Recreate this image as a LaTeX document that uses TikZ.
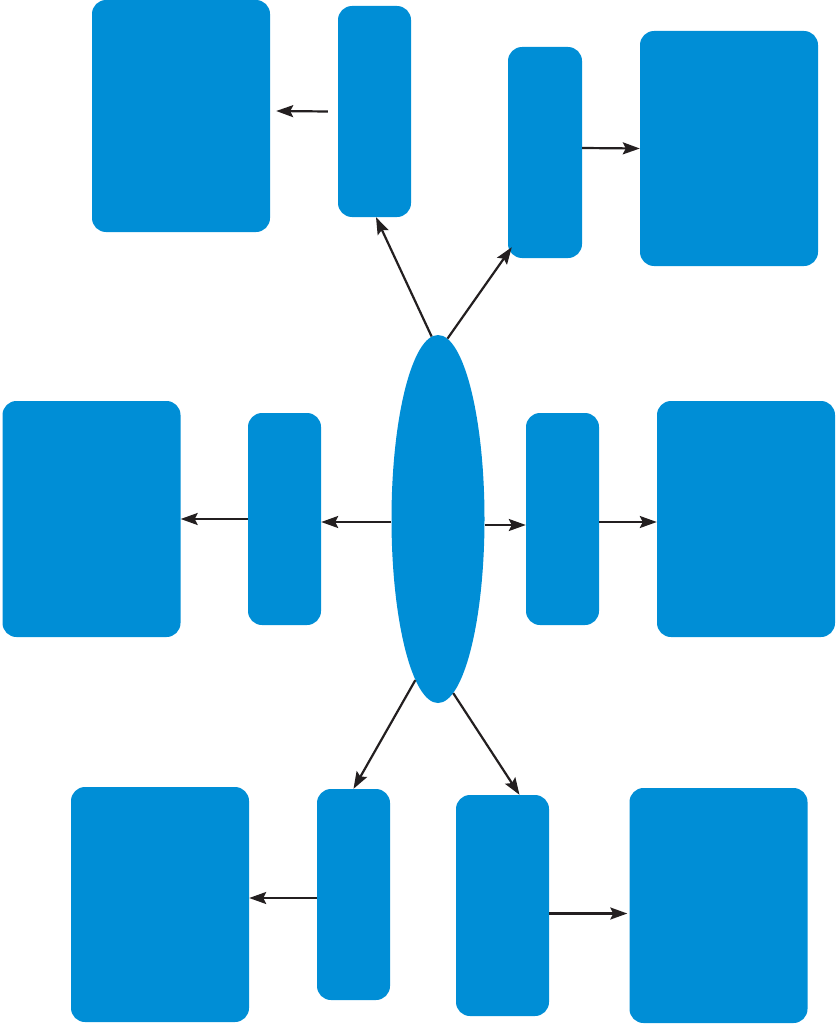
\documentclass[tikz,border=0pt]{standalone}
\usepackage{tikz}
\usetikzlibrary{positioning, arrows.meta, shapes.geometric}
\definecolor{boxblue}{RGB}{0,142,214}
\definecolor{arrowblack}{RGB}{35,31,32}

\begin{document}
\begin{tikzpicture}[
  x=1pt, y=-1pt,
  bigbox/.style = {rectangle, rounded corners=14pt, fill=boxblue, inner sep=0pt, minimum width=178pt, minimum height=235pt},
  smallbox/.style = {rectangle, rounded corners=14pt, fill=boxblue, inner sep=0pt, minimum width=73pt, minimum height=211pt},
  hub/.style = {ellipse, fill=boxblue, inner sep=0pt, minimum width=93pt, minimum height=368pt},
  arrow/.style = {-{Stealth[length=17pt, width=12pt, inset=3pt]}, line width=2.2pt, draw=arrowblack}
  ]
\useasboundingbox (0,0) rectangle (836,1025);

\node[hub] (centre) at (438,519) {};

% top row
\node[bigbox, minimum height=232pt] (topleft) at (181,116) {};
\node[smallbox] (topa) at (374.5,111.5) {};
\node[smallbox, minimum width=74pt] (topb) at (545,152.5) {};
\node[bigbox] (topright) at (729,148.5) {};

% middle row
\node[bigbox, minimum height=236pt] (midleft) at (91.5,519) {};
\node[smallbox, minimum height=212pt] (mida) at (284.5,519) {};
\node[smallbox, minimum height=212pt] (midb) at (562.5,519) {};
\node[bigbox, minimum height=236pt] (midright) at (746,519) {};

% bottom row
\node[bigbox] (botleft) at (160,904.5) {};
\node[smallbox] (bota) at (353.5,894.5) {};
\node[smallbox, minimum width=93pt, minimum height=221pt] (botb) at (502.5,905.5) {};
\node[bigbox] (botright) at (718.5,905.5) {};

\draw[arrow] (centre.92) -- ([xshift=1.5pt]topa.south);
\draw[arrow] (centre.87) -- ([xshift=4pt, yshift=11pt]topb.south west);
\draw[arrow] ([xshift=-10pt]topa.west) -- ([xshift=6pt, yshift=5pt]topleft.east);
\draw[arrow] ([yshift=4.5pt]topb.east) -- (topright.west);

\draw[arrow] ([yshift=-3pt]centre.west) -- ([yshift=-3pt]mida.east);
\draw[arrow] (mida.west) -- (midleft.east);
\draw[arrow] ([yshift=-6pt]centre.east) -- ([yshift=-6pt]midb.west);
\draw[arrow] ([yshift=-3pt]midb.east) -- ([yshift=-3pt]midright.west);

\draw[arrow] (centre.262) -- (bota.north);
\draw[arrow] (centre.275) -- ([xshift=17pt]botb.north);
\draw[arrow] ([yshift=-3.5pt]bota.west) -- ([yshift=6.5pt]botleft.east);
\draw[arrow] ([yshift=-8pt]botb.east) -- ([xshift=-2pt, yshift=-8pt]botright.west);

\end{tikzpicture}
\end{document}
